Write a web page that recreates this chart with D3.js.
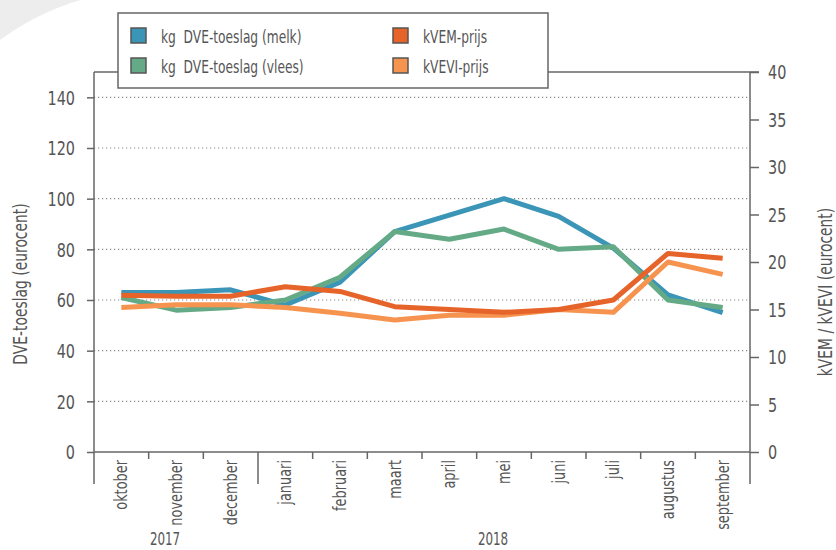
<!DOCTYPE html>
<html>
<head>
<meta charset="utf-8">
<script src="https://cdn.jsdelivr.net/npm/d3@7"></script>
<style>
  body { margin: 0; background: #fff; }
  text { font-family: "DejaVu Sans", sans-serif; fill: #555; }
</style>
</head>
<body>
<script>
// data
var months = ["oktober", "november", "december", "januari", "februari", "maart", "april", "mei", "juni", "juli", "augustus", "september"];
var dve_melk = [63, 63, 64, 58, 67, 87, 93.5, 100, 93, 80.5, 62, 55];
var dve_vlees = [61, 56, 57, 60, 69, 87, 84, 88, 80, 81, 60, 57];
var kvem = [16.5, 16.4, 16.4, 17.4, 16.9, 15.3, 15.0, 14.7, 15.0, 16.0, 20.9, 20.4];
var kvevi = [15.2, 15.5, 15.5, 15.2, 14.6, 13.9, 14.4, 14.4, 15.0, 14.7, 20.0, 18.7];
var left_ticks = [0, 20, 40, 60, 80, 100, 120, 140];
var right_ticks = [0, 5, 10, 15, 20, 25, 30, 35, 40];
var years = [["2017", 1.3], ["2018", 7.3]]; // label, month index position

// layout
var svg_width = 836, svg_height = 550;
var x0 = 94, x1 = 750, y_top = 72, y_base = 452, y_low = 484;
var frame_color = "#666";
var sx = 0.76; // the reference font is a narrow one: squeeze the text

var svg = d3.select("body").append("svg").attr("width", svg_width).attr("height", svg_height);

// page corner decoration
svg.append("path").attr("d", "M0,0 L80,0 Q35,14 0,40 Z").attr("fill", "#ededed");

var x = d3.scaleBand().domain(months).range([x0, x1]);
var yl = d3.scaleLinear().domain([0, 150]).range([y_base, y_top]);
var yr = d3.scaleLinear().domain([0, 40]).range([y_base, y_top]);

// grid
svg.selectAll("line.grid").data(left_ticks.filter(function(d) { return d > 0; }))
  .enter().append("line").attr("class", "grid")
  .attr("x1", x0).attr("x2", x1)
  .attr("y1", function(d) { return yl(d); }).attr("y2", function(d) { return yl(d); })
  .attr("stroke", "#888").attr("stroke-width", 1.2).attr("stroke-dasharray", "1.2,2.8");

// frame: top, left, right
svg.append("line").attr("x1", x0).attr("x2", x1 + 9).attr("y1", y_top).attr("y2", y_top)
  .attr("stroke", frame_color).attr("stroke-width", 1.5);
svg.append("line").attr("x1", x0).attr("x2", x0).attr("y1", y_top).attr("y2", y_low)
  .attr("stroke", frame_color).attr("stroke-width", 1.5);
svg.append("line").attr("x1", x1).attr("x2", x1).attr("y1", y_top).attr("y2", y_low)
  .attr("stroke", frame_color).attr("stroke-width", 1.5);

// left axis
var gl = svg.append("g").attr("transform", "translate(" + x0 + ",0)")
  .call(d3.axisLeft(yl).tickValues(left_ticks).tickSize(7).tickPadding(11));
gl.select(".domain").remove();
gl.selectAll(".tick line").attr("stroke", frame_color).attr("stroke-width", 1.5);
gl.selectAll(".tick text").attr("font-size", 19).attr("fill", "#555").attr("font-family", null)
  .attr("x", -19 / sx).attr("dy", "0.36em").attr("transform", "scale(" + sx + ",1)");

// right axis
var gr = svg.append("g").attr("transform", "translate(" + x1 + ",0)")
  .call(d3.axisRight(yr).tickValues(right_ticks).tickSize(9).tickPadding(9));
gr.select(".domain").remove();
gr.selectAll(".tick line").attr("stroke", frame_color).attr("stroke-width", 1.5);
gr.selectAll(".tick text").attr("font-size", 19).attr("fill", "#555").attr("font-family", null)
  .attr("x", 18 / sx).attr("dy", "0.36em").attr("transform", "scale(" + sx + ",1)");

// x axis
svg.append("line").attr("x1", x0).attr("x2", x1).attr("y1", y_base).attr("y2", y_base)
  .attr("stroke", frame_color).attr("stroke-width", 1.5);
svg.selectAll("line.mtick").data(months.slice(1)).enter().append("line").attr("class", "mtick")
  .attr("x1", function(d) { return x(d); }).attr("x2", function(d) { return x(d); })
  .attr("y1", y_base).attr("y2", function(d) { return d == "januari" ? y_low : y_base + 7; })
  .attr("stroke", frame_color).attr("stroke-width", 1.5);
svg.selectAll("text.month").data(months).enter().append("text").attr("class", "month")
  .attr("transform", function(d) {
    return "translate(" + (x(d) + x.bandwidth() / 2 + 6) + "," + (y_base + 8) + ") rotate(-90) scale(" + sx + ",1)";
  })
  .attr("text-anchor", "end").attr("font-size", 17).text(function(d) { return d; });
svg.selectAll("text.year").data(years).enter().append("text").attr("class", "year")
  .attr("transform", function(d) { return "translate(" + (x0 + x.bandwidth() * d[1]) + ",545) scale(0.66,1)"; })
  .attr("text-anchor", "middle").attr("font-size", 18).text(function(d) { return d[0]; });

// axis titles
svg.append("text").attr("transform", "translate(27,284) rotate(-90) scale(0.73,1)").attr("text-anchor", "middle")
  .attr("font-size", 19).text("DVE-toeslag (eurocent)");
svg.append("text").attr("transform", "translate(832,292) rotate(-90) scale(0.73,1)").attr("text-anchor", "middle")
  .attr("font-size", 19).text("kVEM / kVEVI (eurocent)");

// lines
var series = [
  { name: "kg  DVE-toeslag (melk)", values: dve_melk, scale: yl, color: "#3a95b7" },
  { name: "kg  DVE-toeslag (vlees)", values: dve_vlees, scale: yl, color: "#64aa86" },
  { name: "kVEVI-prijs", values: kvevi, scale: yr, color: "#f6934f" },
  { name: "kVEM-prijs", values: kvem, scale: yr, color: "#e6632a" }
];
series.forEach(function(s) {
  var line = d3.line()
    .x(function(d, i) { return x(months[i]) + x.bandwidth() / 2; })
    .y(function(d) { return s.scale(d); });
  svg.append("path").datum(s.values).attr("d", line)
    .attr("fill", "none").attr("stroke", s.color).attr("stroke-width", 5)
    .attr("stroke-linejoin", "round");
});

// legend
svg.append("rect").attr("x", 118).attr("y", 13).attr("width", 430).attr("height", 75)
  .attr("fill", "#fff").attr("stroke", frame_color).attr("stroke-width", 1.5);
var legend_items = [
  [series[0], 131, 28], [series[1], 131, 58], [series[3], 393, 28], [series[2], 393, 58]
];
legend_items.forEach(function(l) {
  svg.append("rect").attr("x", l[1]).attr("y", l[2]).attr("width", 15).attr("height", 15)
    .attr("fill", l[0].color).attr("stroke", "#555").attr("stroke-width", 1.5);
  svg.append("text").attr("transform", "translate(" + (l[1] + 30) + "," + (l[2] + 15) + ") scale(0.68,1)")
    .attr("font-size", 18).style("white-space", "pre").text(l[0].name);
});
</script>
</body>
</html>
